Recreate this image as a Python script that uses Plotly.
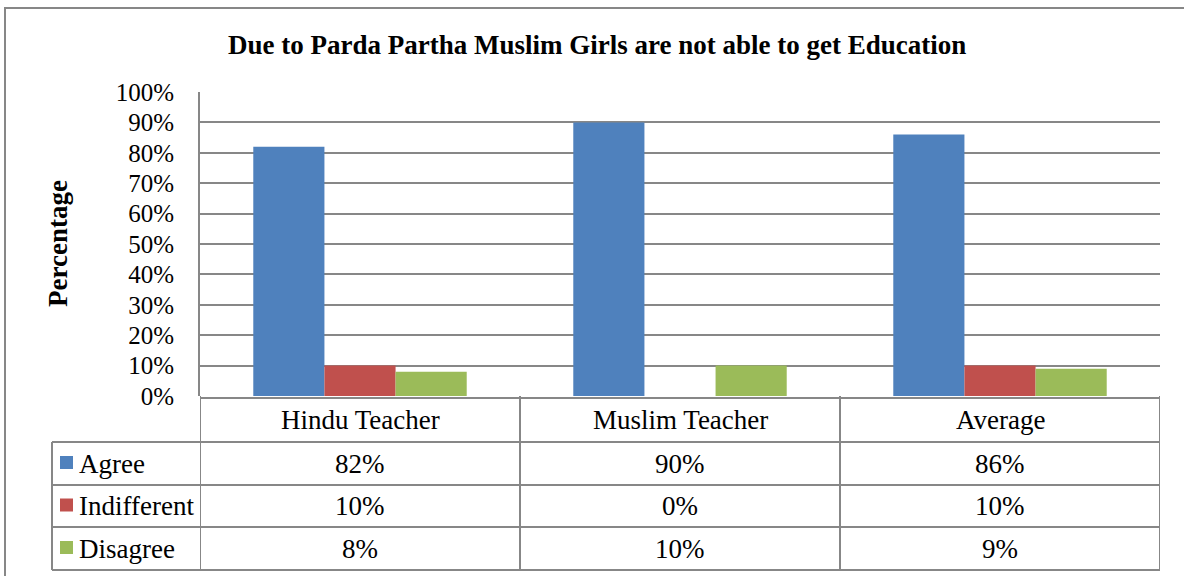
import plotly.graph_objects as go

# Survey data: share of respondents per response, by teacher group
categories = ["Hindu Teacher", "Muslim Teacher", "Average"]
series_names = ["Agree", "Indifferent", "Disagree"]
agree = [0.82, 0.90, 0.86]
indifferent = [0.10, 0.00, 0.10]
disagree = [0.08, 0.10, 0.09]
series_values = [agree, indifferent, disagree]
colors = ["#4F81BD", "#C0504D", "#9BBB59"]

W, H = 1184, 576
L, R, T, B = 200, 24, 92, 180
PW, PH = W - L - R, H - T - B
GRID = "#878787"
FONT = "Liberation Serif, Times New Roman, serif"


def px_x(x):
    return (x - L) / PW


def px_y(y):
    return (H - B - y) / PH


fig = go.Figure()
for name, vals, col in zip(series_names, series_values, colors):
    fig.add_trace(go.Bar(x=list(range(len(categories))), y=vals, name=name,
                         marker=dict(color=col, line=dict(width=0))))

# Data table under the plot: row boundaries in pixels
row_edges = [398, 442, 485, 527, 570]
label_left = 52
shapes = []
line = dict(color=GRID, width=2)
# horizontal rules
shapes.append(dict(type="line", xref="x", yref="paper", x0=-0.5, x1=len(categories) - 0.5,
                   y0=px_y(row_edges[0]), y1=px_y(row_edges[0]), line=line))
for ye in row_edges[1:]:
    shapes.append(dict(type="line", xref="paper", yref="paper", x0=px_x(label_left), x1=1,
                       y0=px_y(ye), y1=px_y(ye), line=line))
# vertical rules between columns
for i in range(len(categories) + 1):
    shapes.append(dict(type="line", xref="x", yref="paper", x0=i - 0.5, x1=i - 0.5,
                       y0=0, y1=px_y(row_edges[-1]), line=line))
shapes.append(dict(type="line", xref="paper", yref="paper", x0=px_x(label_left), x1=px_x(label_left),
                   y0=px_y(row_edges[1]), y1=px_y(row_edges[-1]), line=line))
# legend keys
for k, col in enumerate(colors):
    yc = (row_edges[k + 1] + row_edges[k + 2]) / 2 - 1
    shapes.append(dict(type="rect", xref="paper", yref="paper", x0=px_x(60), x1=px_x(73),
                       y0=px_y(yc + 6.5), y1=px_y(yc - 6.5), fillcolor=col, line=dict(width=0)))
# outer chart border
shapes.append(dict(type="rect", xref="paper", yref="paper", x0=px_x(5), x1=px_x(1200),
                   y0=px_y(600), y1=px_y(8), line=dict(color=GRID, width=2), fillcolor="rgba(0,0,0,0)",
                   layer="below"))

annotations = []
txt = dict(family=FONT, size=27, color="#000000")
# header row: category names
yc = (row_edges[0] + row_edges[1]) / 2
for i, c in enumerate(categories):
    annotations.append(dict(x=i, y=px_y(yc), xref="x", yref="paper", text=c, showarrow=False,
                            font=txt, xanchor="center", yanchor="middle"))
# value rows
for k, (name, vals) in enumerate(zip(series_names, series_values)):
    yc = (row_edges[k + 1] + row_edges[k + 2]) / 2
    annotations.append(dict(x=px_x(77), y=px_y(yc), xref="paper", yref="paper", text=name,
                            showarrow=False, font=txt, xanchor="left", yanchor="middle"))
    for i, v in enumerate(vals):
        annotations.append(dict(x=i, y=px_y(yc), xref="x", yref="paper", text=f"{round(v * 100)}%",
                                showarrow=False, font=txt, xanchor="center", yanchor="middle"))
# axis title and chart title
annotations.append(dict(x=px_x(58), y=0.5, xref="paper", yref="paper", text="<b>Percentage</b>",
                        textangle=-90, showarrow=False, font=dict(family=FONT, size=27, color="#000"),
                        xanchor="center", yanchor="middle"))
annotations.append(dict(x=px_x(597), y=px_y(45), xref="paper", yref="paper",
                        text="<b>Due to Parda Partha Muslim Girls are not able to get Education</b>",
                        showarrow=False, font=dict(family=FONT, size=27, color="#000"),
                        xanchor="center", yanchor="middle"))

fig.update_layout(
    width=W, height=H,
    margin=dict(l=L, r=R, t=T, b=B, autoexpand=False),
    paper_bgcolor="white", plot_bgcolor="white",
    barmode="group", bargap=0.333, bargroupgap=0,
    showlegend=False,
    shapes=shapes, annotations=annotations,
    font=dict(family=FONT, color="#000"),
    xaxis=dict(range=[-0.5, len(categories) - 0.5], showticklabels=False, showgrid=False,
               zeroline=False, showline=False, fixedrange=True),
    yaxis=dict(range=[0, 1], dtick=0.1, tickformat=".0%", showgrid=True, gridcolor=GRID,
               gridwidth=2, zeroline=False, showline=True, linecolor=GRID, linewidth=2,
               ticks="", ticklabelstandoff=19, tickfont=dict(family=FONT, size=25, color="#000")),
)

fig.write_html("out.html")
